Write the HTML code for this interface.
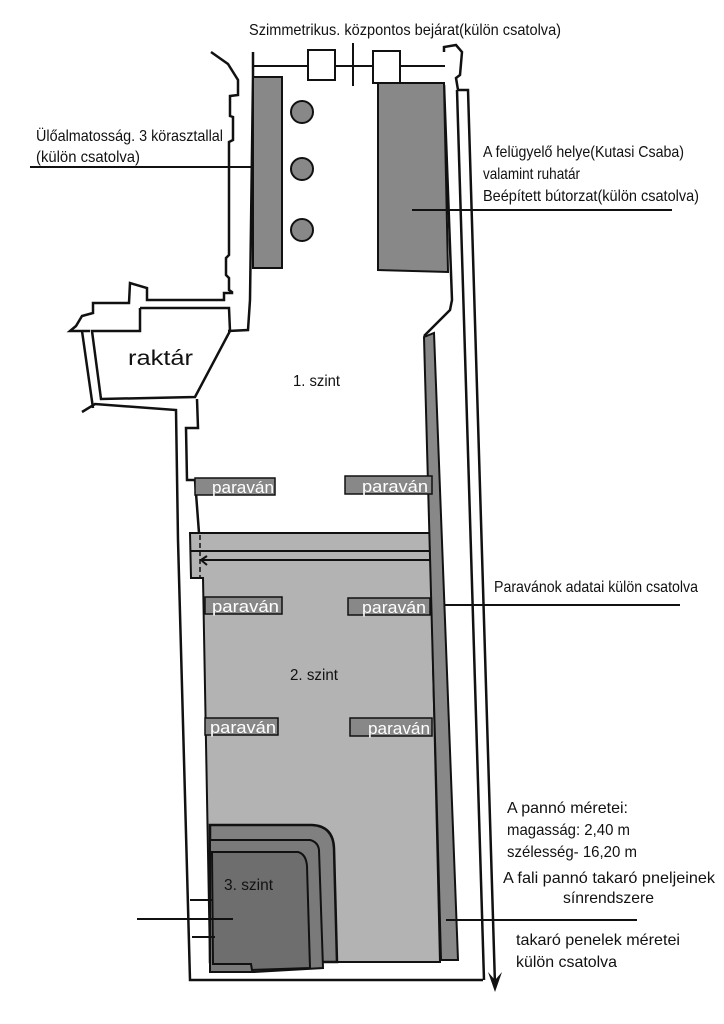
<!DOCTYPE html>
<html><head><meta charset="utf-8"><style>
html,body{margin:0;padding:0;background:#fff;}
svg{display:block;}
text{font-family:"Liberation Sans",sans-serif;fill:#111;}
</style></head><body>
<svg width="724" height="1024" viewBox="0 0 724 1024" xmlns="http://www.w3.org/2000/svg">
<g fill="none" stroke="#111" stroke-width="2.5" stroke-linejoin="miter">
<polyline points="211,52 228,64 238,80 238,95 230,96 230,116 233,117 233,140 229,142 229,255 226,258 226,275 229,278 229,290 232,292 232,293 224,293 224,300 147,300 147,288 130,283 129,303 93,303 93,313 82,316 76,326 70,331 90,331"/>
<polyline points="253,52 253,77 250,300 248,330 228,331"/>
<polyline points="140,308 229,308 230,331 195,397 101,399 92,331 140,331 140,308"/>
<polyline points="82,331 93,408"/>
<polyline points="82,412 95,404 176,410 178,540 190,980 483,980"/>
<polyline points="197,399 198,428 186,428 187,480 195,480 199,533"/>
<polyline points="444,52 444,47 456,45 462,52 460,75 456,78 458,90 468,90 495,985"/>
<line x1="457" y1="90" x2="484" y2="980"/>
<polyline points="444,85 452,300 450,310 430,330 424,336"/>
<line x1="253" y1="66" x2="445" y2="66" stroke-width="2"/>
<line x1="353" y1="43" x2="353" y2="86" stroke-width="2"/>
</g>
<polygon points="488,972 495,992 502,972 495,980" fill="#111"/>
<rect x="308" y="50" width="27" height="30" fill="#fff" stroke="#111" stroke-width="2"/>
<rect x="373" y="51" width="27" height="32" fill="#fff" stroke="#111" stroke-width="2"/>
<rect x="253" y="77" width="29" height="191" fill="#888" stroke="#111" stroke-width="2"/>
<polygon points="378,83 444,83 448,272 378,270" fill="#888" stroke="#111" stroke-width="2"/>
<circle cx="302" cy="112" r="11" fill="#888" stroke="#111" stroke-width="2"/>
<circle cx="302" cy="169" r="11" fill="#888" stroke="#111" stroke-width="2"/>
<circle cx="302" cy="230" r="11" fill="#888" stroke="#111" stroke-width="2"/>
<polygon points="190,533 430,533 440,962 210,962 203,578 191,578" fill="#b3b3b3" stroke="#111" stroke-width="2"/>
<line x1="191" y1="551" x2="430" y2="551" stroke="#111" stroke-width="2"/>
<line x1="200" y1="560" x2="430" y2="560" stroke="#111" stroke-width="2"/>
<polyline points="207,556 201,560 207,565" fill="none" stroke="#111" stroke-width="2"/>
<line x1="200" y1="535" x2="200" y2="578" stroke="#111" stroke-width="1.5" stroke-dasharray="5,3"/>
<polygon points="424,337 434,333 458,960 441,960" fill="#888" stroke="#111" stroke-width="2"/>
<path d="M210,825 L312,825 Q333,826 334,848 L337,962 L210,962 Z" fill="#808080" stroke="#111" stroke-width="2.5"/>
<path d="M210,840 L310,840 Q318,842 319,850 L323,968 L254,972 L210,972 Z" fill="#7a7a7a" stroke="#111" stroke-width="2"/>
<path d="M212,852 L298,852 Q306,854 307,866 L310,968 L252,970 L251,964 L213,964 Z" fill="#6e6e6e" stroke="#111" stroke-width="2"/>
<g stroke="#111" stroke-width="2">
<line x1="30" y1="167" x2="253" y2="167"/>
<line x1="412" y1="210" x2="672" y2="210"/>
<line x1="445" y1="605" x2="680" y2="605"/>
<line x1="446" y1="920" x2="637" y2="920"/>
<line x1="137" y1="919" x2="233" y2="919"/>
<line x1="190" y1="900" x2="213" y2="900"/>
<line x1="192" y1="937" x2="215" y2="937"/>
</g>
<g fill="#888" stroke="#111" stroke-width="1.5">
<rect x="195" y="478" width="80" height="17"/>
<rect x="345" y="476" width="87" height="18"/>
<rect x="205" y="597" width="77" height="17"/>
<rect x="348" y="598" width="82" height="17"/>
<rect x="205" y="718" width="73" height="17"/>
<rect x="350" y="718" width="82" height="18"/>
</g>
<g font-size="17">
<text x="212" y="493" textLength="62" lengthAdjust="spacingAndGlyphs" style="fill:#fff">paraván</text>
<text x="362" y="492" textLength="66" lengthAdjust="spacingAndGlyphs" style="fill:#fff">paraván</text>
<text x="212" y="612" textLength="67" lengthAdjust="spacingAndGlyphs" style="fill:#fff">paraván</text>
<text x="362" y="613" textLength="64" lengthAdjust="spacingAndGlyphs" style="fill:#fff">paraván</text>
<text x="210" y="733" textLength="66" lengthAdjust="spacingAndGlyphs" style="fill:#fff">paraván</text>
<text x="368" y="734" textLength="62" lengthAdjust="spacingAndGlyphs" style="fill:#fff">paraván</text>
</g>
<g font-size="16">
<text x="249" y="35" textLength="312" lengthAdjust="spacingAndGlyphs">Szimmetrikus. központos bejárat(külön csatolva)</text>
<text x="36" y="141" textLength="187" lengthAdjust="spacingAndGlyphs">Ülőalmatosság. 3 körasztallal</text>
<text x="36" y="162" textLength="104" lengthAdjust="spacingAndGlyphs">(külön csatolva)</text>
<text x="483" y="157" textLength="201" lengthAdjust="spacingAndGlyphs">A felügyelő helye(Kutasi Csaba)</text>
<text x="483" y="179" textLength="97" lengthAdjust="spacingAndGlyphs">valamint ruhatár</text>
<text x="483" y="201" textLength="216" lengthAdjust="spacingAndGlyphs">Beépített bútorzat(külön csatolva)</text>
<text x="494" y="592" textLength="204" lengthAdjust="spacingAndGlyphs">Paravánok adatai külön csatolva</text>
<text x="507" y="813" textLength="121" lengthAdjust="spacingAndGlyphs">A pannó méretei:</text>
<text x="507" y="835" textLength="123" lengthAdjust="spacingAndGlyphs">magasság: 2,40 m</text>
<text x="507" y="857" textLength="130" lengthAdjust="spacingAndGlyphs">szélesség- 16,20 m</text>
<text x="503" y="883" textLength="212" lengthAdjust="spacingAndGlyphs">A fali pannó takaró pneljeinek</text>
<text x="563" y="903" textLength="91" lengthAdjust="spacingAndGlyphs">sínrendszere</text>
<text x="516" y="945" textLength="164" lengthAdjust="spacingAndGlyphs">takaró penelek méretei</text>
<text x="516" y="967" textLength="101" lengthAdjust="spacingAndGlyphs">külön csatolva</text>
<text x="293" y="386" textLength="47" lengthAdjust="spacingAndGlyphs">1. szint</text>
<text x="290" y="680" textLength="48" lengthAdjust="spacingAndGlyphs">2. szint</text>
<text x="224" y="890" textLength="49" lengthAdjust="spacingAndGlyphs">3. szint</text>
</g>
<text x="128" y="365" font-size="21" textLength="65" lengthAdjust="spacingAndGlyphs">raktár</text>
</svg>
</body></html>
